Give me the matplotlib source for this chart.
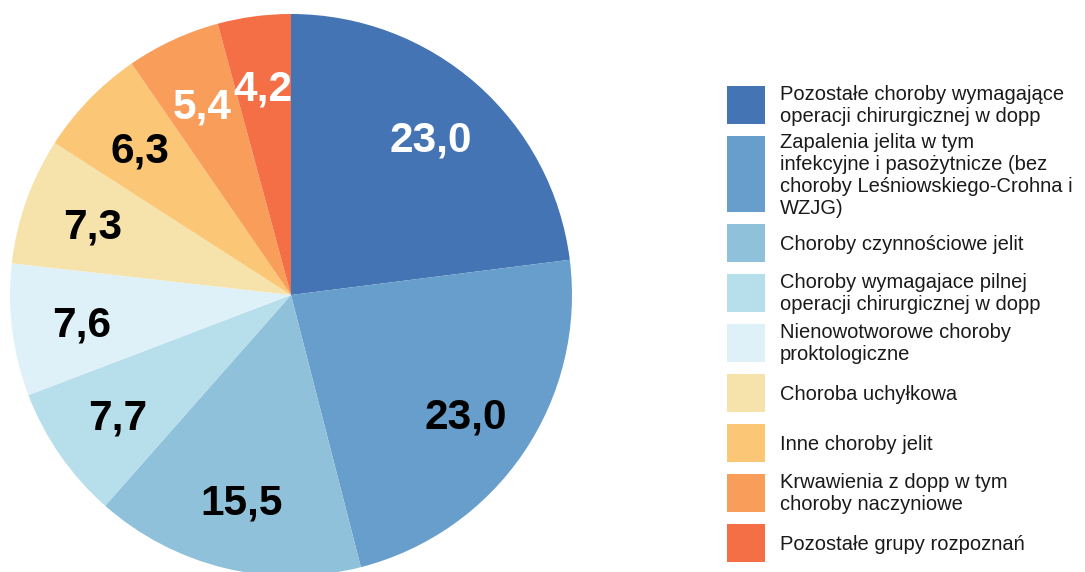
import matplotlib.pyplot as plt
from matplotlib.patches import Rectangle

# Dane
kategorie = [
    "Pozostałe choroby wymagające\noperacji chirurgicznej w dopp",
    "Zapalenia jelita w tym\ninfekcyjne i pasożytnicze (bez\nchoroby Leśniowskiego-Crohna i\nWZJG)",
    "Choroby czynnościowe jelit",
    "Choroby wymagajace pilnej\noperacji chirurgicznej w dopp",
    "Nienowotworowe choroby\nproktologiczne",
    "Choroba uchyłkowa",
    "Inne choroby jelit",
    "Krwawienia z dopp w tym\nchoroby naczyniowe",
    "Pozostałe grupy rozpoznań",
]
wartosci = [23.0, 23.0, 15.5, 7.7, 7.6, 7.3, 6.3, 5.4, 4.2]
kolory = ["#4574b4", "#679ecb", "#8fc1da", "#b7deeb", "#dff1f8",
          "#f6e3ab", "#fbc676", "#f99d5b", "#f46f45"]
kolory_etykiet = ["white", "black", "black", "black", "black",
                  "black", "black", "white", "white"]

plt.rcParams['font.family'] = ['Liberation Sans', 'DejaVu Sans']

W, H = 1085, 572
fig = plt.figure(figsize=(W / 100, H / 100), dpi=100)

# Wykres kołowy
ax = fig.add_axes([10 / W, (H - 576) / H, 562 / W, 562 / H])
wedges, teksty, etykiety = ax.pie(
    wartosci, colors=kolory, startangle=90, counterclock=False,
    autopct=lambda p: f"{p:.1f}".replace(".", ","), pctdistance=0.75,
)
for t, c in zip(etykiety, kolory_etykiet):
    t.set_color(c)
    t.set_fontsize(30.5)
    t.set_fontweight("bold")
    x, y = t.get_position()
    t.set_position((x, y - 0.013))
ax.set_xlim(-1, 1)
ax.set_ylim(-1, 1)

# Legenda rysowana recznie
lax = fig.add_axes([0, 0, 1, 1])
lax.set_xlim(0, W)
lax.set_ylim(H, 0)
lax.axis("off")
y = 86
for kat, kol in zip(kategorie, kolory):
    n = kat.count("\n") + 1
    h = max(2, n) * 19
    lax.add_patch(Rectangle((727, y), 38, h, facecolor=kol, edgecolor="none"))
    lax.text(780, y + h / 2 + 1, kat, fontsize=14.5, va="center", ha="left",
             color="#1a1a1a", linespacing=1.2)
    y += h + 12

fig.savefig("out.png", dpi=100)
